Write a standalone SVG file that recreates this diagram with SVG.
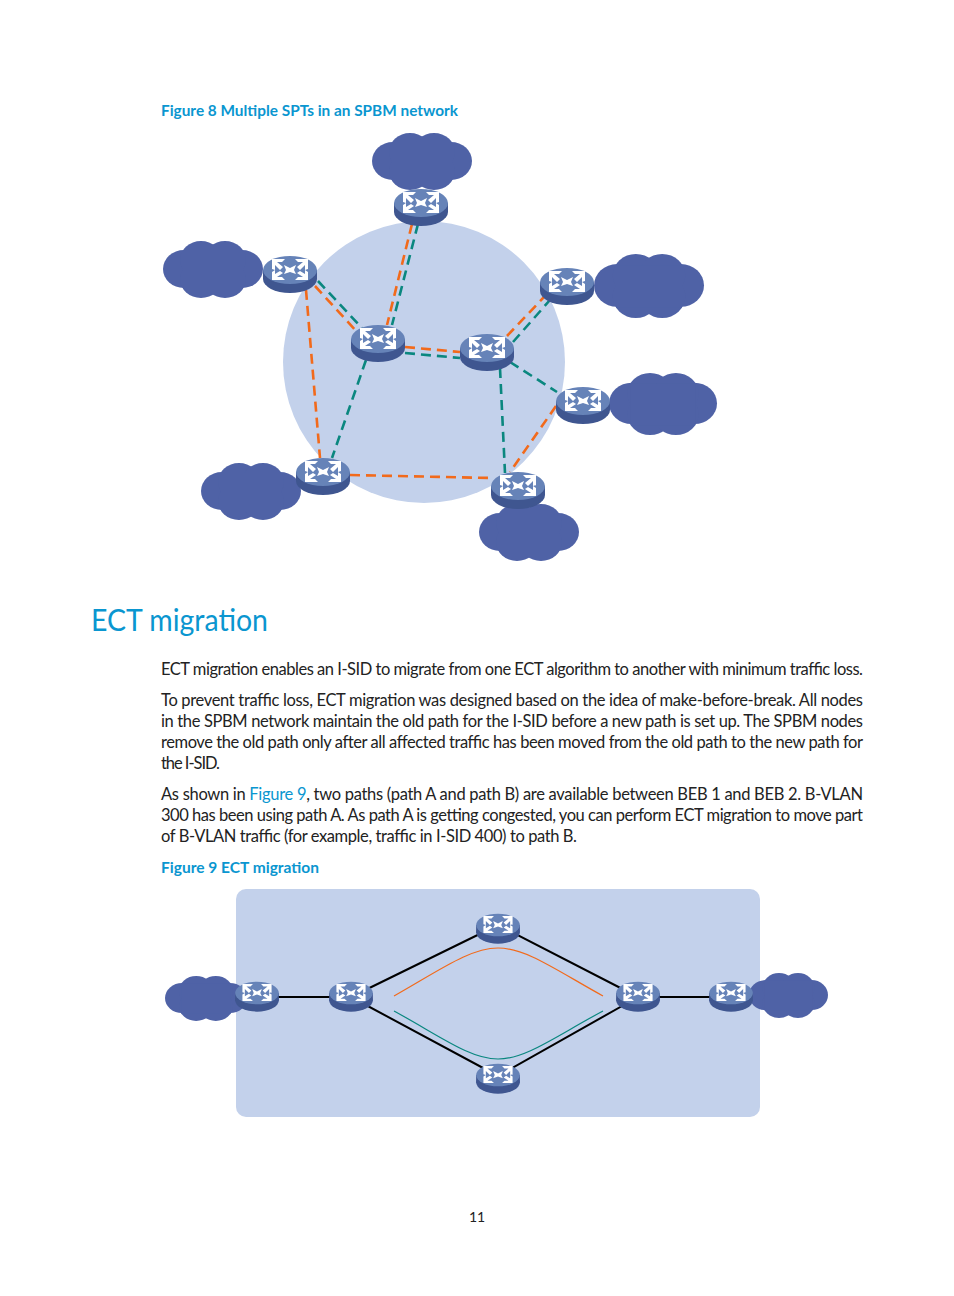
<svg xmlns="http://www.w3.org/2000/svg" xmlns:xlink="http://www.w3.org/1999/xlink" width="954" height="1296" viewBox="0 0 954 1296">
<style>
text{font-family:"Lato","Liberation Sans",sans-serif;fill:#222}
.b{font-size:16.5px}
.c{font-size:16px;font-weight:700;fill:#0a96d0}
.h{font-size:30px;fill:#0a96d0}
.l{fill:#0a96d0}
.o{stroke:#f26a1b;stroke-width:2.6;stroke-dasharray:10 6;fill:none}
.t{stroke:#0a877f;stroke-width:2.6;stroke-dasharray:10 6;fill:none}
.k{stroke:#000;stroke-width:2;fill:none}
.co{fill:#4f62a6}
</style>
<defs>
<symbol id="cloud" viewBox="0 0 100 57" overflow="visible" preserveAspectRatio="none">
<g class="co"><ellipse cx="21" cy="28" rx="21" ry="19"/><ellipse cx="79" cy="28" rx="21" ry="19"/><ellipse cx="38" cy="19" rx="21" ry="19"/><ellipse cx="62" cy="19" rx="21" ry="19"/><ellipse cx="38" cy="38" rx="21" ry="19"/><ellipse cx="62" cy="38" rx="21" ry="19"/><rect x="20" y="10" width="60" height="38"/></g>
</symbol>
<g id="r">
<ellipse cx="0" cy="9" rx="27" ry="14" fill="#3f5690"/><rect x="-27" y="0" width="54" height="9" fill="#3f5690"/>
<ellipse cx="0" cy="0" rx="27" ry="14" fill="#6683b8"/>
<path fill="#fff" d="M-18-11H-5L-8-8H-13L-7-3-10 0-15-5V0L-18 2ZM18-11H5L8-8H13L7-3 10 0 15-5V0L18 2ZM-18 10H-5L-8 7H-13L-7 3-10 1-15 4V0L-18-1ZM18 10H5L8 7H13L7 3 10 1 15 4V0L18-1ZM-6-5 0-2 6-5 4 0 6 4 0 2-6 4-4 0Z"/>
</g>
</defs>
<rect width="954" height="1296" fill="#fff"/>

<text class="c" x="161" y="116" textLength="297" lengthAdjust="spacingAndGlyphs">Figure 8 Multiple SPTs in an SPBM network</text>
<circle cx="424" cy="362" r="141" fill="#c3d1eb"/>

<g id="connectors-fig8">
<path class="o" d="M412 224L387 325"/><path class="t" d="M418 224L392 325"/>
<path class="o" d="M315 286L358 333"/><path class="t" d="M318 281L362 328"/>
<path class="o" d="M306 290L320 458"/>
<path class="t" d="M366 360L332 458"/>
<path class="o" d="M405 347L460 352"/><path class="t" d="M405 353L460 358"/>
<path class="o" d="M507 336L545 296"/><path class="t" d="M513 342L550 300"/>
<path class="t" d="M510 362L557 392"/>
<path class="t" d="M500 368L505 473"/>
<path class="o" d="M556 406L510 472"/>
<path class="o" d="M350 475L492 478"/>
</g>

<g id="cloud-a"><use href="#cloud" x="372" y="133" width="100" height="57"/></g>
<g id="cloud-b"><use href="#cloud" x="163" y="241" width="100" height="57"/></g>
<g id="cloud-c"><use href="#cloud" x="594" y="254" width="110" height="64"/></g>
<g id="cloud-d"><use href="#cloud" x="609" y="373" width="108" height="62"/></g>
<g id="cloud-e"><use href="#cloud" x="201" y="463" width="100" height="57"/></g>
<g id="cloud-f"><use href="#cloud" x="479" y="504" width="100" height="57"/></g>

<g id="node-1"><use href="#r" transform="translate(421 203)"/></g>
<g id="node-2"><use href="#r" transform="translate(290 270)"/></g>
<g id="node-3"><use href="#r" transform="translate(378 339)"/></g>
<g id="node-4"><use href="#r" transform="translate(487 348)"/></g>
<g id="node-5"><use href="#r" transform="translate(567 282)"/></g>
<g id="node-6"><use href="#r" transform="translate(583 401)"/></g>
<g id="node-7"><use href="#r" transform="translate(323 472)"/></g>
<g id="node-8"><use href="#r" transform="translate(518 486)"/></g>

<text class="h" x="91" y="631" textLength="177" lengthAdjust="spacingAndGlyphs">ECT migration</text>
<text class="b" x="161" y="675" textLength="702">ECT migration enables an I-SID to migrate from one ECT algorithm to another with minimum traffic loss.</text>
<text class="b" x="161" y="706" textLength="702">To prevent traffic loss, ECT migration was designed based on the idea of make-before-break. All nodes</text>
<text class="b" x="161" y="727" textLength="702">in the SPBM network maintain the old path for the I-SID before a new path is set up. The SPBM nodes</text>
<text class="b" x="161" y="748" textLength="702">remove the old path only after all affected traffic has been moved from the old path to the new path for</text>
<text class="b" x="161" y="769" textLength="59">the I-SID.</text>
<text class="b" x="161" y="800" textLength="702">As shown in <tspan class="l">Figure 9</tspan>, two paths (path A and path B) are available between BEB 1 and BEB 2. B-VLAN</text>
<text class="b" x="161" y="821" textLength="702">300 has been using path A. As path A is getting congested, you can perform ECT migration to move part</text>
<text class="b" x="161" y="842" textLength="416">of B-VLAN traffic (for example, traffic in I-SID 400) to path B.</text>
<text class="c" x="161" y="873" textLength="158" lengthAdjust="spacingAndGlyphs">Figure 9 ECT migration</text>

<rect x="236" y="889" width="524" height="228" rx="10" fill="#c3d1eb"/>
<g id="cloud-g"><use href="#cloud" x="165" y="976" width="82" height="45"/></g>
<g id="cloud-h"><use href="#cloud" x="749" y="973" width="79" height="45"/></g>
<g id="connectors-fig9">
<path class="k" d="M257 997H351M351 997L498 925M351 997L498 1076M498 925L638 997M498 1076L638 997M638 997H731"/>
<path d="M394 996C440 970 470 948 498 948C526 948 556 970 603 996" fill="none" stroke="#f26a1b" stroke-width="1.2"/>
<path d="M394 1011C440 1036 470 1059 498 1059C526 1059 556 1036 603 1011" fill="none" stroke="#0a877f" stroke-width="1.2"/>
</g>
<g id="node-9"><use href="#r" transform="translate(257 993) scale(.81)"/></g>
<g id="node-10"><use href="#r" transform="translate(351 993) scale(.81)"/></g>
<g id="node-11"><use href="#r" transform="translate(498 925) scale(.81)"/></g>
<g id="node-12"><use href="#r" transform="translate(638 993) scale(.81)"/></g>
<g id="node-13"><use href="#r" transform="translate(731 993) scale(.81)"/></g>
<g id="node-14"><use href="#r" transform="translate(498 1075) scale(.81)"/></g>

<text x="477" y="1222" font-size="14" text-anchor="middle" style="font-size:14px">11</text>
</svg>
